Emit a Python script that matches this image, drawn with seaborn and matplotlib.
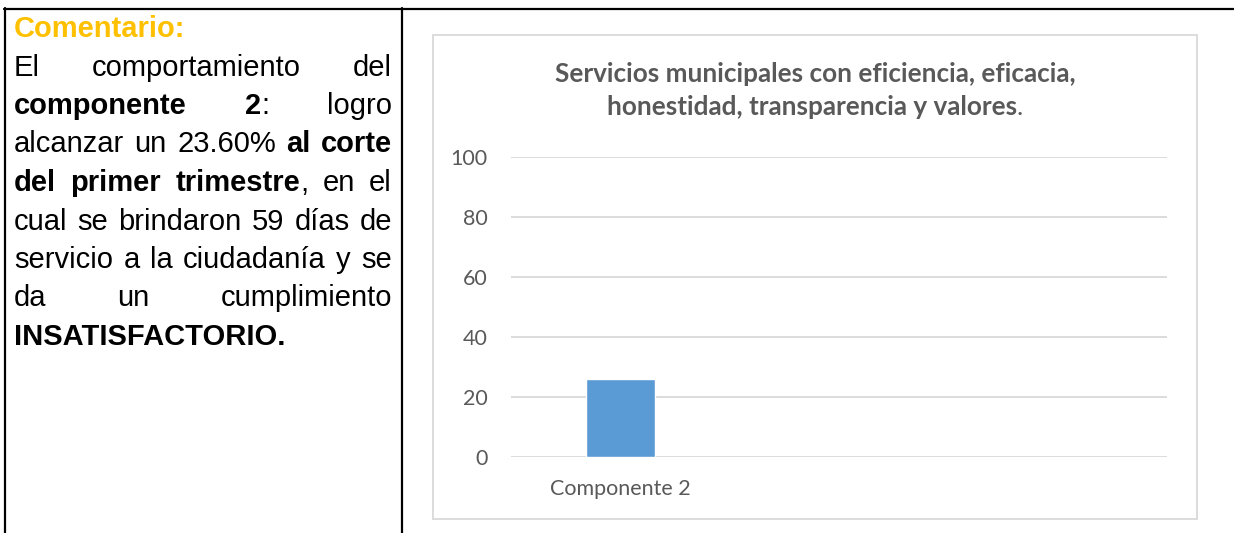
import matplotlib
matplotlib.use("Agg")
import matplotlib.pyplot as plt
import seaborn as sns
from matplotlib.patches import Rectangle
from matplotlib.lines import Line2D

# chart data
categories = ["Componente 2"]
values = [26]
y_ticks = [0, 20, 40, 60, 80, 100]
n_slots = 3  # the Excel chart keeps room for three categories

title_lines = ["Servicios municipales con eficiencia, eficacia,",
               "honestidad, transparencia y valores"]

comment_title = "Comentario:"
# every line is a list of words, every word a list of (text, bold) pieces
comment_lines = [
    [[("El", False)], [("comportamiento", False)], [("del", False)]],
    [[("componente", True)], [("2", True), (":", False)], [("logro", False)]],
    [[("alcanzar", False)], [("un", False)], [("23.60%", False)],
     [("al", True)], [("corte", True)]],
    [[("del", True)], [("primer", True)], [("trimestre", True), (",", False)],
     [("en", False)], [("el", False)]],
    [[("cual", False)], [("se", False)], [("brindaron", False)], [("59", False)],
     [("días", False)], [("de", False)]],
    [[("servicio", False)], [("a", False)], [("la", False)], [("ciudadanía", False)],
     [("y", False)], [("se", False)]],
    [[("da", False)], [("un", False)], [("cumplimiento", False)]],
    [[("INSATISFACTORIO.", True)]],
]

W, H = 1234, 533
GRAY = "#595959"
GRID = "#D9D9D9"
BAR = "#5B9BD5"

sns.set_style("white")
plt.rcParams["font.family"] = ["Lato", "DejaVu Sans"]

fig = plt.figure(figsize=(W / 100, H / 100), dpi=100)
renderer = fig.canvas.get_renderer()


def fx(x):
    return x / W


def fy(y):
    return 1 - y / H


# table borders
for x0, y0, x1, y1 in [(4, 8.5, W, 8.5), (4.5, 8, 4.5, H), (402, 8, 402, H)]:
    fig.add_artist(Line2D([fx(x0), fx(x1)], [fy(y0), fy(y1)], color="black",
                          lw=1.6, transform=fig.transFigure))

# comment cell (justified text)
TXT = dict(family=["Liberation Sans", "DejaVu Sans"], fontsize=21,
           va="baseline", ha="left", color="black")
LEFT, RIGHT = 14, 392
fig.text(fx(LEFT), fy(37), comment_title, fontweight="bold", color="#FFC000",
         **{k: v for k, v in TXT.items() if k != "color"})


def seg_width(txt, bold):
    t = fig.text(0, 0, txt, fontweight="bold" if bold else "normal", **TXT)
    w = t.get_window_extent(renderer).width
    t.remove()
    return w


for i, words in enumerate(comment_lines):
    base = 75.5 + 38.5 * i
    widths = [sum(seg_width(s, b) for s, b in wd) for wd in words]
    last = i == len(comment_lines) - 1
    if last or len(words) == 1:
        gap = seg_width(" ", False)
    else:
        gap = (RIGHT - LEFT - sum(widths)) / (len(words) - 1)
    x = LEFT
    for wd, w in zip(words, widths):
        xx = x
        for s, b in wd:
            fig.text(fx(xx), fy(base), s, fontweight="bold" if b else "normal", **TXT)
            xx += seg_width(s, b)
        x += w + gap

# chart frame
fig.add_artist(Rectangle((fx(433), fy(519)), fx(1197) - fx(433), fy(35) - fy(519),
                         transform=fig.transFigure, fill=False, edgecolor=GRID, lw=1.3))

# chart title
TTL = dict(fontsize=18.8, color=GRAY, va="baseline")
fig.text(fx(815), fy(82), title_lines[0], ha="center", fontweight="bold", **TTL)
t2 = fig.text(0, 0, title_lines[1], fontweight="bold", **TTL)
w_bold = t2.get_window_extent(renderer).width
t2.remove()
dot = fig.text(0, 0, ".", **TTL)
w_dot = dot.get_window_extent(renderer).width
dot.remove()
x2 = 815 - (w_bold + w_dot) / 2
fig.text(fx(x2), fy(115), title_lines[1], ha="left", fontweight="bold", **TTL)
fig.text(fx(x2 + w_bold), fy(115), ".", ha="left", **TTL)

# bar chart
ax = fig.add_axes([fx(511), fy(457), fx(1167) - fx(511), fy(157) - fy(457)])
sns.barplot(x=categories, y=values, color=BAR, width=0.316, saturation=1, ax=ax)
ax.set_xlim(-0.5, n_slots - 0.5)
ax.set_ylim(0, 100)
ax.set_yticks(y_ticks)
ax.set_axisbelow(True)
ax.yaxis.grid(True, color=GRID, lw=1.3)
ax.xaxis.grid(False)
for sp in ax.spines.values():
    sp.set_visible(False)
ax.tick_params(axis="y", length=0, pad=17, labelsize=15.5, labelcolor=GRAY)
ax.tick_params(axis="x", length=0, pad=16, labelsize=15.5, labelcolor=GRAY)
ax.set_xlabel("")
ax.set_ylabel("")

fig.savefig("out.png", dpi=100)
